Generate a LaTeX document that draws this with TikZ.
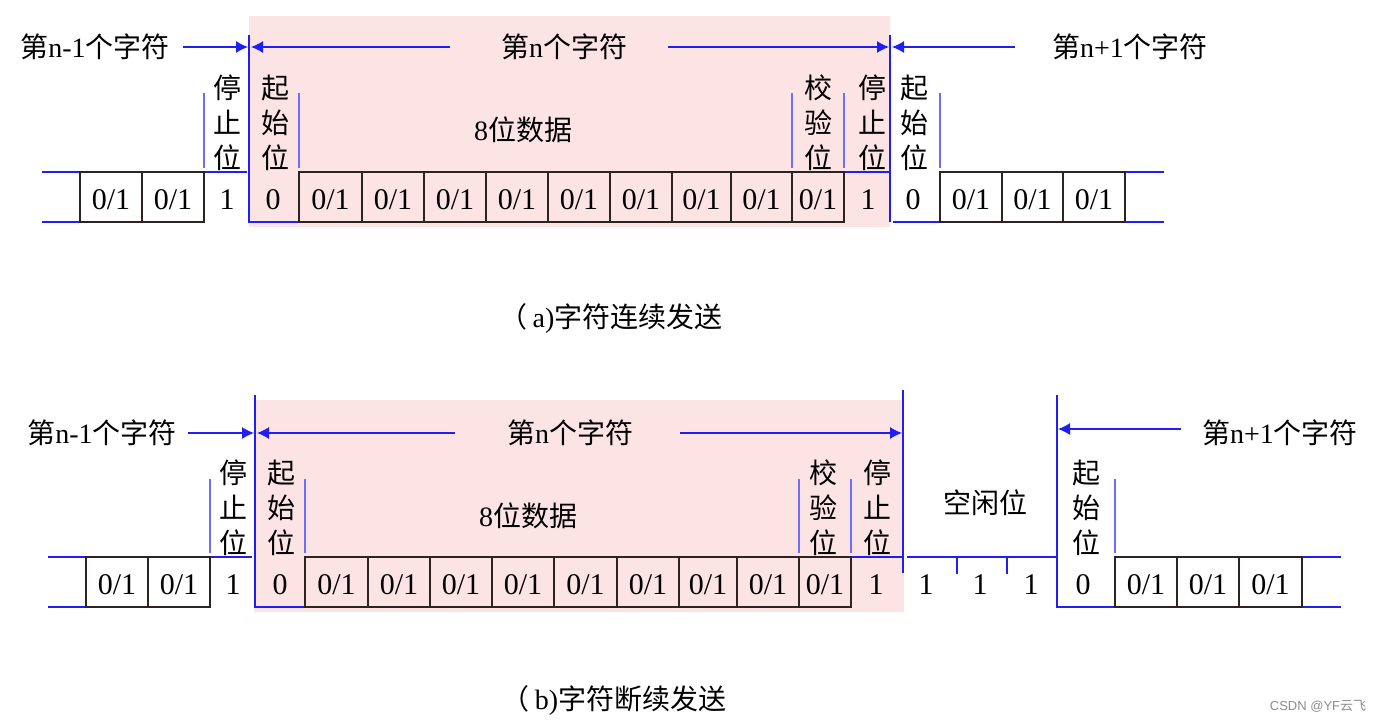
\documentclass[tikz,border=0pt]{standalone}
\usepackage{fontspec}
\setmainfont{Liberation Serif}
\newfontfamily\cjk{Noto Sans CJK SC}
\newfontfamily\wmfont{Liberation Sans}
\usetikzlibrary{arrows.meta}
\newcommand{\zh}[1]{{\cjk #1}}
\definecolor{sigblue}{RGB}{30,30,245}
\definecolor{sepblue}{RGB}{110,110,250}
\definecolor{framepink}{RGB}{253,228,228}
\definecolor{cellgray}{RGB}{45,35,35}

\begin{document}
\begin{tikzpicture}[x=1pt, y=-1pt,
    sig/.style={draw=sigblue, line width=1.4pt},
    sep/.style={draw=sepblue, line width=1.3pt},
    cell/.style={draw=cellgray, line width=1.2pt},
    bit/.style={font=\fontsize{30}{30}\selectfont, inner sep=0pt},
    lbl/.style={font=\fontsize{28}{35}\selectfont, inner sep=0pt},
    vlbl/.style={font=\cjk\fontsize{28}{35}\selectfont, align=center, inner sep=0pt},
    arr/.style={draw=sigblue, line width=1.3pt, -{Latex[length=12pt,width=12pt]}}]
  \useasboundingbox (0,0) rectangle (1379,723);

  % (a)
  \fill[framepink] (249,16) rectangle (890,227);
  \node[lbl] (prevA) at (95,47) {\zh{第}n-1\zh{个字符}};
  \node[lbl] (curA) at (564,47) {\zh{第}n\zh{个字符}};
  \node[lbl] (nextA) at (1130,47) {\zh{第}n+1\zh{个字符}};
  \node[lbl] (dataA) at (523,130) {8\zh{位数据}};
  \coordinate (a0) at (183,47);
  \coordinate (a1) at (248,47);
  \coordinate (a2) at (450,47);
  \coordinate (a3) at (251,47);
  \coordinate (a4) at (668,47);
  \coordinate (a5) at (889,47);
  \coordinate (a6) at (1015,47);
  \coordinate (a7) at (892,47);
  \draw[arr] (a0) -- (a1);
  \draw[arr] (a2) -- (a3);
  \draw[arr] (a4) -- (a5);
  \draw[arr] (a6) -- (a7);
  \draw[sig] (249,35) -- (249,222) -- (299,222);
  \draw[sig] (890,35) -- (890,222);
  \draw[sig] (42,172) -- (80,172);
  \draw[sig] (42,222) -- (80,222);
  \draw[sig] (204,172) -- (247,172);
  \draw[sig] (844,172) -- (890,172);
  \draw[sig] (893,222) -- (940,222);
  \draw[sig] (1125,172) -- (1164,172);
  \draw[sig] (1125,222) -- (1164,222);
  \foreach \x in {204,299,792,844,940}
    \draw[sep] (\x,93) -- (\x,168);
  \foreach \l/\r [count=\i] in {80/142,142/204,299/362,362/424,424/486,486/548,548/610,610/672,672/731,731/792,792/844,940/1002,1002/1063,1063/1125} {
    \draw[cell] (\l,172) rectangle (\r,222);
    \node[bit] (ca\i) at ({(\l+\r)/2},200) {0/1};
  }
  \node[bit] (stopA1) at (227,200) {1};
  \node[bit] (startA1) at (273,200) {0};
  \node[bit] (stopA2) at (868,200) {1};
  \node[bit] (startA2) at (913,200) {0};
  \node[vlbl] (lstopA1) at (227,123) {停\\止\\位};
  \node[vlbl] (lstartA1) at (275,123) {起\\始\\位};
  \node[vlbl] (lparA) at (818,123) {校\\验\\位};
  \node[vlbl] (lstopA2) at (872,123) {停\\止\\位};
  \node[vlbl] (lstartA2) at (914,123) {起\\始\\位};
  \node[lbl] (capA) at (611,318) {\zh{（}\kern5pt a)\zh{字符连续发送}};

  % (b)
  \fill[framepink] (254,400) rectangle (904,612);
  \node[lbl] (prevB) at (102,433) {\zh{第}n-1\zh{个字符}};
  \node[lbl] (curB) at (570,433) {\zh{第}n\zh{个字符}};
  \node[lbl] (nextB) at (1280,433) {\zh{第}n+1\zh{个字符}};
  \node[lbl] (dataB) at (528,516) {8\zh{位数据}};
  \node[lbl] (idleB) at (985,503) {\zh{空闲位}};
  \coordinate (b0) at (188,433);
  \coordinate (b1) at (254,433);
  \coordinate (b2) at (455,433);
  \coordinate (b3) at (257,433);
  \coordinate (b4) at (680,433);
  \coordinate (b5) at (902,433);
  \coordinate (b6) at (1181,429);
  \coordinate (b7) at (1058,429);
  \draw[arr] (b0) -- (b1);
  \draw[arr] (b2) -- (b3);
  \draw[arr] (b4) -- (b5);
  \draw[arr] (b6) -- (b7);
  \draw[sig] (255,395) -- (255,607) -- (305,607);
  \draw[sig] (903,390) -- (903,573);
  \draw[sig] (1057,395) -- (1057,607) -- (1115,607);
  \draw[sig] (48,557) -- (86,557);
  \draw[sig] (48,607) -- (86,607);
  \draw[sig] (210,557) -- (252,557);
  \draw[sig] (851,557) -- (903,557);
  \draw[sig] (907,557) -- (1057,557);
  \draw[sig] (957,557) -- (957,574);
  \draw[sig] (1007,557) -- (1007,574);
  \draw[sig] (1302,557) -- (1341,557);
  \draw[sig] (1302,607) -- (1341,607);
  \foreach \x in {210,305,799,851,1115}
    \draw[sep] (\x,479) -- (\x,553);
  \foreach \l/\r [count=\i] in {86/148,148/210,305/368,368/430,430/492,492/554,554/617,617/679,679/737,737/799,799/851,1115/1177,1177/1239,1239/1302} {
    \draw[cell] (\l,557) rectangle (\r,607);
    \node[bit] (cb\i) at ({(\l+\r)/2},585) {0/1};
  }
  \node[bit] (stopB1) at (233,585) {1};
  \node[bit] (startB1) at (280,585) {0};
  \node[bit] (stopB2) at (876,585) {1};
  \node[bit] (idleB1) at (926,585) {1};
  \node[bit] (idleB2) at (980,585) {1};
  \node[bit] (idleB3) at (1031,585) {1};
  \node[bit] (startB2) at (1083,585) {0};
  \node[vlbl] (lstopB1) at (233,508) {停\\止\\位};
  \node[vlbl] (lstartB1) at (281,508) {起\\始\\位};
  \node[vlbl] (lparB) at (823,508) {校\\验\\位};
  \node[vlbl] (lstopB2) at (877,508) {停\\止\\位};
  \node[vlbl] (lstartB2) at (1086,508) {起\\始\\位};
  \node[lbl] (capB) at (614,700) {\zh{（}\kern5pt b)\zh{字符断续发送}};

  \node[font=\wmfont\fontsize{13}{13}\selectfont, text=black!45, inner sep=0pt] (mark) at (1318,706) {CSDN @YF\zh{云飞}};
\end{tikzpicture}
\end{document}
